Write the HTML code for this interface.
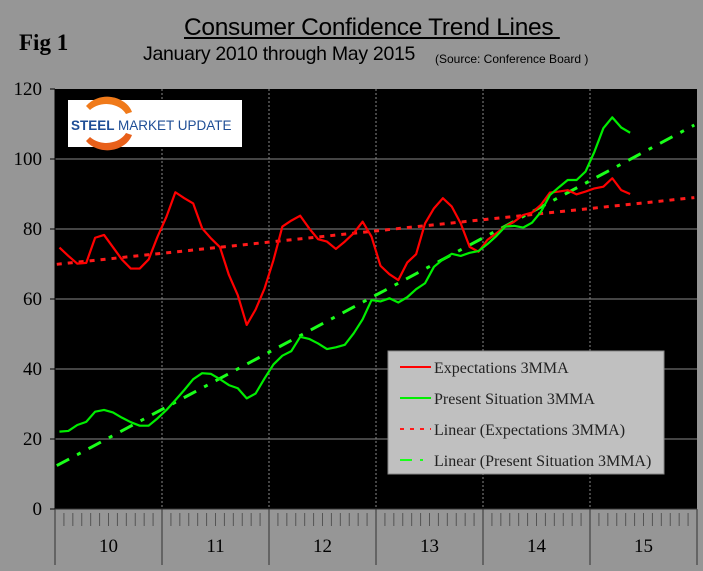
<!DOCTYPE html>
<html><head><meta charset="utf-8"><style>
body{margin:0;background:#969696;width:703px;height:571px;overflow:hidden;position:relative;font-family:"Liberation Sans",sans-serif}
.t{position:absolute;white-space:nowrap;color:#000}
</style></head><body>
<div class="t" style="left:19px;top:30px;font:bold 23px 'Liberation Serif',serif">Fig 1</div>
<div class="t" style="left:184px;top:14px;font-size:24.5px;text-decoration:underline;letter-spacing:-0.3px">Consumer Confidence Trend Lines&nbsp;</div>
<div class="t" style="left:143px;top:43px;font-size:19.5px;letter-spacing:-0.3px">January 2010 through May 2015</div>
<div class="t" style="left:435px;top:52px;font-size:12px">(Source: Conference Board )</div>
<svg id="c" width="703" height="571" style="position:absolute;left:0;top:0"></svg>
<script>
const years=['10','11','12','13','14','15'];
const yTicks=[0,20,40,60,80,100,120];
const expectations=[74.7,72.3,70.1,70.3,77.5,78.3,74.8,71.3,68.7,68.7,71.3,77.8,
83.5,90.5,88.8,87.3,80.2,77.3,74.8,66.9,61.1,52.6,57,63,
71.1,80.7,82.4,83.8,80.2,77.1,76.4,74.3,76.4,78.8,82.1,77.8,
69.5,67.1,65.4,70.4,72.8,81.6,85.9,88.8,86.4,81.6,74.9,73.5,
76.9,78.8,80.7,82.1,84,84.7,86.9,90.4,90.7,91.1,89.9,90.7,
91.6,92.1,94.5,91.1,90];
const present=[22.1,22.3,24,24.9,27.8,28.3,27.6,26.1,24.8,23.8,23.8,25.9,
28.3,31.1,34,37.1,38.8,38.6,37.1,35.4,34.5,31.6,33,37.3,
41.3,43.8,45.1,49.2,48.6,47.3,45.7,46.2,46.9,50.2,54.2,59.7,
59.3,60.2,59,60.5,62.8,64.5,69.2,71.3,72.9,72.3,73.2,73.7,
75.7,78,80.7,80.9,80.4,81.8,84.9,89.7,91.9,94,94,96.4,
102.1,108.8,111.9,109,107.5];
const L=55,R=697,T=89,B=509,NM=72,MW=(R-L)/NM;
const X=i=>L+(i+0.5)*MW, Y=v=>B-(v/120)*(B-T);
const svg=document.getElementById('c');const NS='http://www.w3.org/2000/svg';
function mk(t,a,p){const e=document.createElementNS(NS,t);for(const k in a)e.setAttribute(k,a[k]);(p||svg).appendChild(e);return e;}
const plot=mk('rect',{x:L,y:T,width:R-L,height:B-T,fill:'#000'});


yTicks.forEach(v=>{
 if(v>0&&v<120){const g=mk('line',{x1:L,x2:R,y1:Y(v),y2:Y(v),stroke:'#5a5a5a','stroke-width':1.5});
 
 }
 mk('line',{x1:L-5,x2:L,y1:Y(v),y2:Y(v),stroke:'#000','stroke-width':1});
 const t=mk('text',{x:L-13,y:Y(v)+6,'text-anchor':'end','font-family':'Liberation Serif,serif','font-size':19,fill:'#000'});
 t.textContent=v;
 
 
});
mk('line',{x1:L,x2:L,y1:T,y2:B,stroke:'#000'});
years.forEach((y,k)=>{
 const x=L+k*12*MW;
 if(k>0){const d=mk('line',{x1:x,x2:x,y1:T,y2:B,stroke:'#888','stroke-width':1,'stroke-dasharray':'2,2'});
 
 }
 mk('line',{x1:x,x2:x,y1:B,y2:565,stroke:'#333','stroke-width':1});
 for(let m=1;m<12;m++){mk('line',{x1:x+m*MW,x2:x+m*MW,y1:B+4,y2:B+17,stroke:'#555','stroke-width':1});}
 const t=mk('text',{x:x+6*MW,y:552,'text-anchor':'middle','font-family':'Liberation Serif,serif','font-size':19,fill:'#000'});
 t.textContent=y;
 
 
});
mk('line',{x1:R,x2:R,y1:B,y2:565,stroke:'#333'});
mk('line',{x1:L,x2:R,y1:B,y2:B,stroke:'#333'});
function fit(a){const n=a.length;let sx=0,sy=0,sxy=0,sxx=0;a.forEach((v,i)=>{sx+=i;sy+=v;sxy+=i*v;sxx+=i*i});const b=(n*sxy-sx*sy)/(n*sxx-sx*sx);return [(sy-b*sx)/n,b];}
function trend(a,col,dash,name){const [a0,b]=fit(a);const x0=-0.3,x1=71.2;
 const l=mk('line',{x1:X(x0),y1:Y(a0+b*x0),x2:X(x1),y2:Y(a0+b*x1),stroke:col,'stroke-width':3,'stroke-dasharray':dash});
 
 }
trend(expectations,'#ff1a1a','5,6','expectations-trendline');
trend(present,'#1aff1a','14,9,4,9','present-situation-trendline');
function series(a,col,name){const p=mk('polyline',{points:a.map((v,i)=>X(i)+','+Y(v)).join(' '),fill:'none',stroke:col,'stroke-width':2.2,'stroke-linejoin':'round'});
 
 }
series(expectations,'#ff0000','expectations-line');
series(present,'#00ee00','present-situation-line');
const lg=mk('g',{});


mk('rect',{x:388,y:351,width:276,height:123,fill:'#c0c0c0',stroke:'#888'},lg);
const items=[['Expectations 3MMA','#ff0000',''],['Present Situation 3MMA','#00ee00',''],['Linear (Expectations 3MMA)','#ff1a1a','4,6'],['Linear (Present Situation 3MMA)','#1aff1a','12,8,3,8']];
items.forEach((it,k)=>{const y=367+k*31;
 const e=mk('g',{},lg);
 
 
 mk('line',{x1:400,x2:431,y1:y,y2:y,stroke:it[1],'stroke-width':2,'stroke-dasharray':it[2]},e);
 const t=mk('text',{x:434,y:y+6,'font-family':'Liberation Serif,serif','font-size':16,fill:'#222'},e);t.textContent=it[0];});
const lo=mk('g',{});


mk('rect',{x:68,y:100,width:174,height:47,fill:'#fff'},lo);
mk('path',{d:'M86,106 A26,22 0 0 1 132,112 L126,114 A22,18 0 0 0 90,110 Z',fill:'#f07a1a'},lo);
mk('path',{d:'M86,141 A26,22 0 0 0 132,135 L126,133 A22,18 0 0 1 90,137 Z',fill:'#e8601a'},lo);
const lt=mk('text',{x:71,y:130,'font-family':'Liberation Sans,sans-serif','font-size':13.5,fill:'#1f4e96','font-weight':'bold'},lo);
lt.innerHTML='STEEL <tspan font-weight="normal">MARKET UPDATE</tspan>';
</script>
</body></html>
